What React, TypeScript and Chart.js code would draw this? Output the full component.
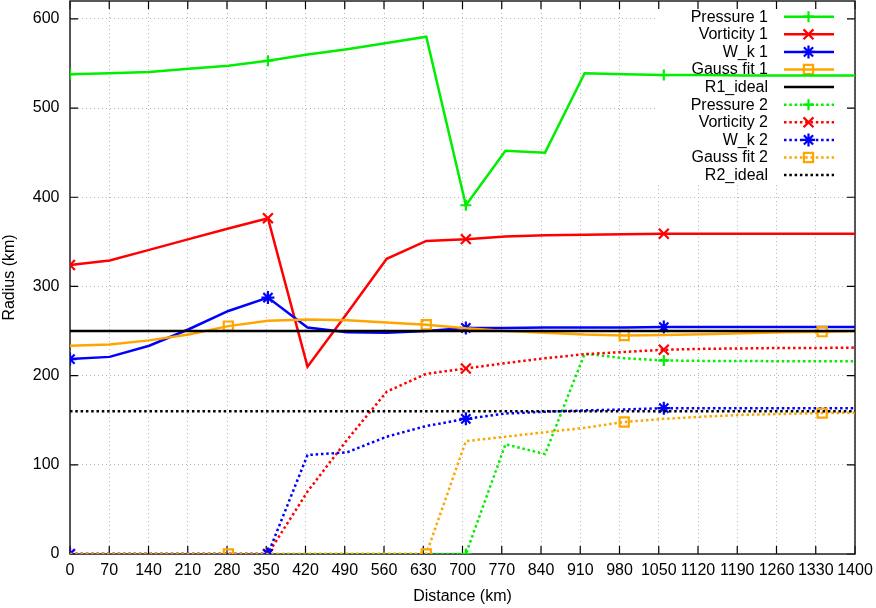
import React, { useEffect, useRef } from 'react';
import { Chart, registerables } from 'chart.js';

Chart.register(...registerables);

// Distance samples (km)
const distances = [0, 70.6, 141.2, 211.8, 282.4, 353, 423.6, 494.2, 564.8, 635.4, 706, 776.6, 847.2, 917.8, 988.4, 1059, 1129.6, 1200.2, 1270.8, 1341.4, 1412];

// Series values (km)
const pressure1 = [538, 539, 540.5, 544, 547.5, 553, 560, 566, 573, 580, 391, 452, 450, 539, 538, 537, 537, 536.5, 536.5, 536.5, 536.5];
const vorticity1 = [324, 329, 341, 353, 365, 376.5, 210, 270, 331, 351, 353, 356, 357.5, 358, 358.5, 359, 359, 359, 359, 359, 359];
const wk1 = [218.5, 221, 233.5, 252, 272.5, 287.5, 254, 248.5, 248, 250, 253.5, 253.5, 254, 254, 254, 254.5, 254.5, 254.5, 254.5, 254.5, 254.5];
const gauss1 = [233.5, 235, 239.5, 246, 255.5, 261.5, 263, 262, 259.5, 257, 253, 250, 248, 246, 245, 245.5, 246.5, 247.5, 248.5, 249.3, 250];
const pressure2 = [0, 0, 0, 0, 0, 0, 0, 0, 0, 0, 0, 123, 112, 224.5, 219.5, 217, 216.5, 216.5, 216, 216, 216];
const vorticity2 = [0, 0, 0, 0, 0, 0, 70, 128, 182, 202, 208, 214, 219.5, 224, 226.5, 229, 230, 230.5, 231, 231, 231.5];
const wk2 = [0, 0, 0, 0, 0, 0, 111, 114, 131.5, 143.5, 151.5, 157.5, 159.5, 161, 162, 163.5, 163.5, 163.5, 163.5, 163.5, 163.5];
const gauss2 = [0, 0, 0, 0, 0, 0, 0, 0, 0, 0, 126.5, 131.5, 136.5, 141.5, 148, 151.5, 154, 156, 157, 158, 158.5];

const idealX = [0, 1400];
const r1Ideal = [250, 250];
const r2Ideal = [160, 160];

// Tick values
const yTickValues = [0, 100, 200, 300, 400, 500, 600];

// Marker positions (sample indices)
const markEvery5 = [0, 5, 10, 15, 20];
const markGauss = [4, 9, 14, 19];

const FONT = '"Liberation Sans", Arial, Helvetica, sans-serif';
const SOLID = 2.5;
const DOT: number[] = [2.5, 2.8];

type Marker = 'cross' | 'crossRot' | 'star' | 'rect' | 'none';

const markerRadius: Record<Marker, number> = { cross: 5.5, crossRot: 7, star: 6.5, rect: 6.5, none: 0 };

interface SeriesDef {
  label: string;
  color: string;
  dotted: boolean;
  marker: Marker;
  xs: number[];
  ys: number[];
  marks: number[];
}

const seriesDefs: SeriesDef[] = [
  { label: 'Pressure 1', color: '#00ee00', dotted: false, marker: 'cross', xs: distances, ys: pressure1, marks: markEvery5 },
  { label: 'Vorticity 1', color: '#ff0000', dotted: false, marker: 'crossRot', xs: distances, ys: vorticity1, marks: markEvery5 },
  { label: 'W_k 1', color: '#0000ff', dotted: false, marker: 'star', xs: distances, ys: wk1, marks: markEvery5 },
  { label: 'Gauss fit 1', color: '#ffa500', dotted: false, marker: 'rect', xs: distances, ys: gauss1, marks: markGauss },
  { label: 'R1_ideal', color: '#000000', dotted: false, marker: 'none', xs: idealX, ys: r1Ideal, marks: [] },
  { label: 'Pressure 2', color: '#00ee00', dotted: true, marker: 'cross', xs: distances, ys: pressure2, marks: markEvery5 },
  { label: 'Vorticity 2', color: '#ff0000', dotted: true, marker: 'crossRot', xs: distances, ys: vorticity2, marks: markEvery5 },
  { label: 'W_k 2', color: '#0000ff', dotted: true, marker: 'star', xs: distances, ys: wk2, marks: markEvery5 },
  { label: 'Gauss fit 2', color: '#ffa500', dotted: true, marker: 'rect', xs: distances, ys: gauss2, marks: markGauss },
  { label: 'R2_ideal', color: '#000000', dotted: true, marker: 'none', xs: idealX, ys: r2Ideal, marks: [] },
];

function drawMarker(ctx: CanvasRenderingContext2D, m: Marker, x: number, y: number, color: string) {
  const r = markerRadius[m];
  ctx.save();
  ctx.strokeStyle = color;
  ctx.lineWidth = 2.2;
  ctx.setLineDash([]);
  ctx.beginPath();
  if (m === 'cross' || m === 'star') {
    ctx.moveTo(x - r, y);
    ctx.lineTo(x + r, y);
    ctx.moveTo(x, y - r);
    ctx.lineTo(x, y + r);
  }
  if (m === 'crossRot' || m === 'star') {
    const d = r * Math.SQRT1_2;
    ctx.moveTo(x - d, y - d);
    ctx.lineTo(x + d, y + d);
    ctx.moveTo(x - d, y + d);
    ctx.lineTo(x + d, y - d);
  }
  if (m === 'rect') {
    const s = r * Math.SQRT1_2;
    ctx.rect(x - s, y - s, 2 * s, 2 * s);
  }
  ctx.stroke();
  ctx.restore();
}

const keyPlugin = {
  id: 'gnuKey',
  beforeDatasetsDraw(chart: any) {
    const ctx: CanvasRenderingContext2D = chart.ctx;
    const { left, right, top, bottom } = chart.chartArea;
    const xs = chart.scales.x;
    const ys = chart.scales.y;
    ctx.save();
    // key box (hides grid)
    ctx.fillStyle = '#ffffff';
    ctx.fillRect(656, top + 0.5, right - 656, 183 - top);

    // frame and inward ticks (drawn behind the data)
    ctx.strokeStyle = '#000';
    ctx.lineWidth = 1.2;
    ctx.setLineDash([]);
    ctx.beginPath();
    const tl = 8;
    xs.ticks.forEach((t: any) => {
      const px = xs.getPixelForValue(t.value);
      ctx.moveTo(px, bottom);
      ctx.lineTo(px, bottom - tl);
      ctx.moveTo(px, top);
      ctx.lineTo(px, top + tl);
    });
    ys.ticks.forEach((t: any) => {
      const py = ys.getPixelForValue(t.value);
      ctx.moveTo(left, py);
      ctx.lineTo(left + tl, py);
      ctx.moveTo(right, py);
      ctx.lineTo(right - tl, py);
    });
    ctx.stroke();
    ctx.lineWidth = 1.5;
    ctx.strokeStyle = '#222';
    ctx.strokeRect(left, top, right - left, bottom - top);

    // key entries
    ctx.font = `16px ${FONT}`;
    ctx.textAlign = 'right';
    ctx.textBaseline = 'middle';
    seriesDefs.forEach((s, k) => {
      const y = 16.7 + k * 17.6;
      ctx.fillStyle = '#000';
      ctx.fillText(s.label, 768, y + 0.5);
      ctx.strokeStyle = s.color;
      ctx.lineWidth = SOLID;
      ctx.setLineDash(s.dotted ? DOT : []);
      ctx.beginPath();
      ctx.moveTo(784, y);
      ctx.lineTo(834, y);
      ctx.stroke();
      ctx.setLineDash([]);
      if (s.marker !== 'none') drawMarker(ctx, s.marker, 808.5, y, s.color);
    });
    ctx.restore();
  },
};

export default function App() {
  const ref = useRef<HTMLCanvasElement | null>(null);

  useEffect(() => {
    if (!ref.current) return;
    Chart.defaults.color = '#000';
    const datasets = seriesDefs.map((s, i) => ({
      label: s.label,
      data: s.xs.map((x, j) => ({ x, y: s.ys[j] })),
      borderColor: s.color,
      backgroundColor: 'rgba(0,0,0,0)',
      borderWidth: SOLID,
      borderDash: s.dotted ? DOT : [],
      tension: 0,
      fill: false,
      order: 20 - i,
      pointStyle: s.marker === 'none' ? false : s.marker,
      pointRadius: (c: any) => (s.marks.includes(c.dataIndex) ? markerRadius[s.marker] : 0),
      pointHoverRadius: 0,
      pointBorderWidth: 2.2,
      pointBorderColor: s.color,
      pointBackgroundColor: 'rgba(0,0,0,0)',
    }));

    const chart = new Chart(ref.current, {
      type: 'line',
      data: { datasets },
      plugins: [keyPlugin],
      options: {
        animation: false,
        responsive: false,
        maintainAspectRatio: false,
        layout: { autoPadding: false, padding: { top: 1, right: 21, left: 0, bottom: 0 } },
        plugins: { legend: { display: false }, tooltip: { enabled: false } },
        events: [],
        scales: {
          x: {
            type: 'linear',
            min: 0,
            max: 1400,
            ticks: {
              stepSize: 70,
              autoSkip: false,
              maxRotation: 0,
              minRotation: 0,
              padding: 7,
              color: '#000',
              font: { size: 16, family: FONT },
              callback: (v: any) => String(v),
            },
            grid: { color: '#b4b4b4', lineWidth: 1, drawTicks: false },
            border: { display: false, dash: [1, 3] },
            title: {
              display: true,
              text: 'Distance (km)',
              color: '#000',
              font: { size: 16, family: FONT },
              padding: { top: 0, bottom: 1.5 },
            },
            afterFit: (s: any) => {
              s.height = 54;
              s.paddingLeft = 0;
              s.paddingRight = 0;
            },
          },
          y: {
            type: 'linear',
            min: 0,
            max: 620,
            ticks: {
              stepSize: 100,
              padding: 10.5,
              color: '#000',
              font: { size: 16, family: FONT },
              callback: (v: any) => String(v),
            },
            afterBuildTicks: (s: any) => {
              s.ticks = yTickValues.map((v) => ({ value: v }));
            },
            grid: { color: '#b4b4b4', lineWidth: 1, drawTicks: false },
            border: { display: false, dash: [1, 3] },
            title: {
              display: true,
              text: 'Radius (km)',
              color: '#000',
              font: { size: 16, family: FONT },
              padding: { top: 0, bottom: 0 },
            },
            afterFit: (s: any) => {
              s.width = 70;
              s.paddingTop = 0;
              s.paddingBottom = 0;
            },
          },
        },
      } as any,
    });
    return () => chart.destroy();
  }, []);

  return (
    <div style={{ position: 'absolute', left: 0, top: 0, width: 876, height: 608, background: '#fff' }}>
      <canvas ref={ref} width={876} height={608} style={{ display: 'block', width: 876, height: 608 }} />
    </div>
  );
}
